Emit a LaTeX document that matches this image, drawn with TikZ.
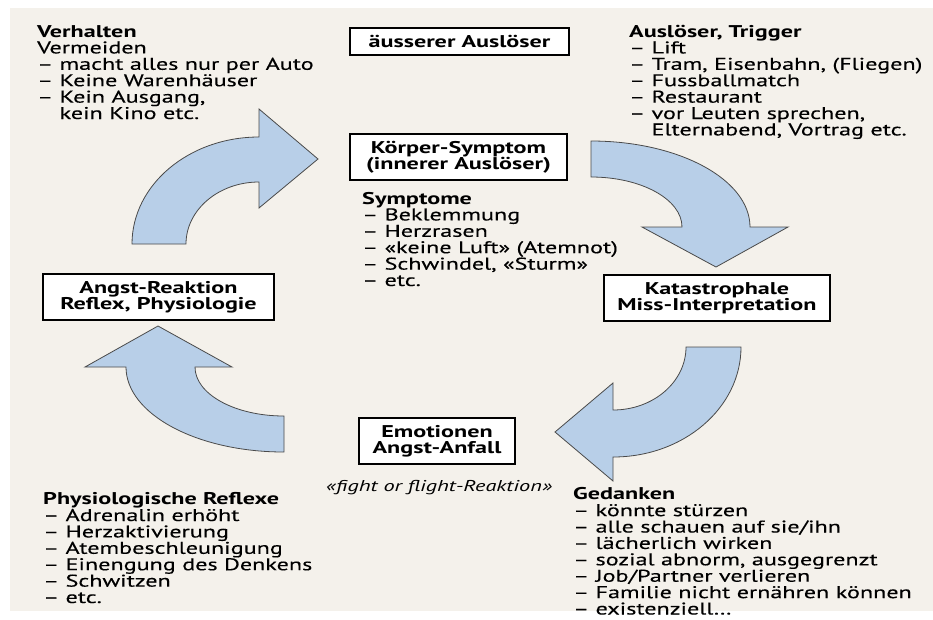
\documentclass[tikz,border=0pt]{standalone}
\usepackage{fontspec}
\setmainfont{PT Sans}[FakeStretch=1.42,UprightFeatures={FakeBold=0.3}]
\usetikzlibrary{positioning}
\definecolor{arrowblue}{HTML}{B8CFE8}
\definecolor{arrowline}{HTML}{4A4A4A}
\definecolor{paper}{HTML}{F4F1EB}
\newcommand\listfont{\fontsize{17}{16.4}\selectfont}
\tikzset{box/.style={draw=black,line width=1.2pt,fill=white,align=center,font=\listfont\bfseries,inner sep=0pt}}
\tikzset{blockarrow/.style={draw=arrowline,line width=0.8pt,fill=arrowblue,line join=miter}}
\tikzset{listtext/.style={align=left,anchor=base west,inner sep=0pt}}

\begin{document}
\begin{tikzpicture}[x=1pt,y=-1pt,font=\listfont]
	\useasboundingbox (0,0) rectangle (933,619);
	\fill[paper] (10,8) rectangle (933,611);

	% the four bent arrows
	\draw[blockarrow] (132,244) .. controls (132,184.9) and (188.9,137) .. (259,137)
		-- (259,109) -- (318,159) -- (259,208) -- (259,182)
		.. controls (218.7,182) and (186,209.8) .. (186,244) -- cycle;
	\draw[blockarrow] (591,141) .. controls (678.8,141) and (750,179.5) .. (750,227)
		-- (788,227) -- (716,267) -- (642,227) -- (682,227)
		.. controls (682,199.4) and (641.3,177) .. (591,177) -- cycle;
	\draw[blockarrow] (741,347) .. controls (741,407.8) and (683.7,457) .. (613,457)
		-- (613,481) -- (555,432) -- (613,383) -- (613,410)
		.. controls (653.3,410) and (686,381.8) .. (686,347) -- cycle;
	\draw[blockarrow] (284,452) .. controls (196.7,452) and (126,413.9) .. (126,367)
		-- (85,367) -- (158,326) -- (232,367) -- (195,367)
		.. controls (195,394.1) and (234.8,416) .. (284,416) -- cycle;

	% boxes
	\node[box,minimum width=219pt,minimum height=27pt] (aussen) at (459.5,41.5) {äusserer Auslöser};
	\node[box,minimum width=217pt,minimum height=46pt] (koerper) at (458.5,157) {Körper-Symptom\\(innerer Auslöser)};
	\node[box,minimum width=226pt,minimum height=46pt] (kata) at (717,298) {Katastrophale\\Miss-Interpretation};
	\node[box,minimum width=156pt,minimum height=46pt] (emo) at (437,441) {Emotionen\\Angst-Anfall};
	\node[box,minimum width=231pt,minimum height=46pt] (angst) at (158.5,297) {Angst-Reaktion\\Reflex, Physiologie};

	% lists (anchored at the baseline of their last line)
	\node[listtext] (verhalten) at (37,119) {\textbf{Verhalten}\\Vermeiden\\– macht alles nur per Auto\\– Keine Warenhäuser\\– Kein Ausgang,\\\phantom{– }kein Kino etc.};
	\node[listtext] (trigger) at (629,135.4) {\textbf{Auslöser, Trigger}\\– Lift\\– Tram, Eisenbahn, (Fliegen)\\– Fussballmatch\\– Restaurant\\– vor Leuten sprechen,\\\phantom{– }Elternabend, Vortrag etc.};
	\node[listtext] (symptome) at (362,286) {\textbf{Symptome}\\– Beklemmung\\– Herzrasen\\– «keine Luft» (Atemnot)\\– Schwindel, «Sturm»\\– etc.};
	\node[listtext] (reflexe) at (43,603) {\textbf{Physiologische Reflexe}\\– Adrenalin erhöht\\– Herzaktivierung\\– Atembeschleunigung\\– Einengung des Denkens\\– Schwitzen\\– etc.};
	\node[listtext] (gedanken) at (573,614.5) {\textbf{Gedanken}\\– könnte stürzen\\– alle schauen auf sie/ihn\\– lächerlich wirken\\– sozial abnorm, ausgegrenzt\\– Job/Partner verlieren\\– Familie nicht ernähren können\\– existenziell\dots};

	\node[font=\fontsize{15.7}{16}\selectfont\itshape] (fight) at (439,488) {«fight or flight-Reaktion»};
\end{tikzpicture}
\end{document}
